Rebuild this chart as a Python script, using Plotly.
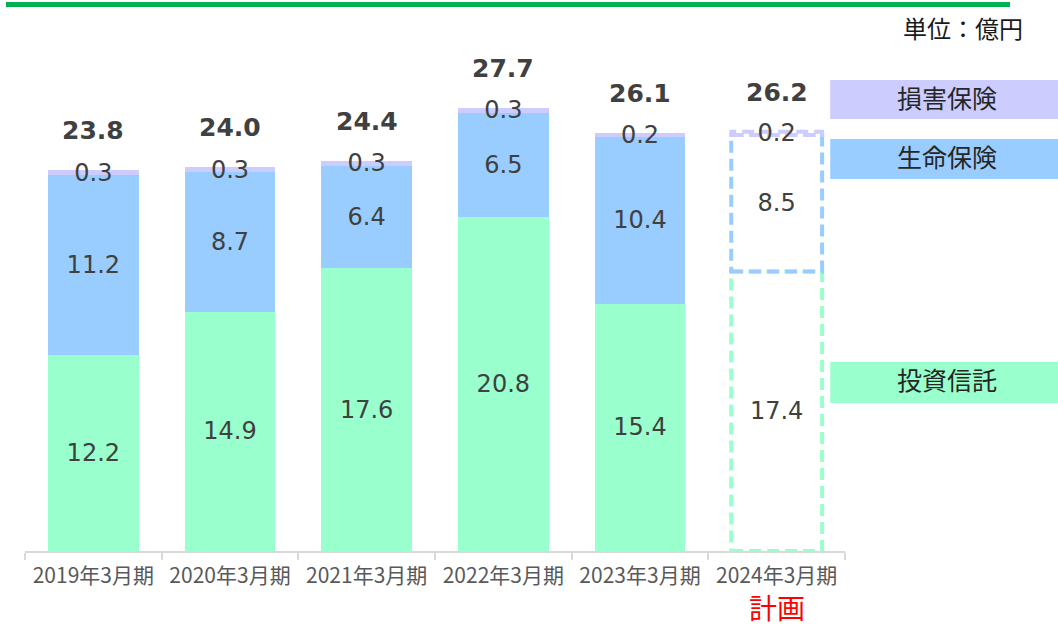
import plotly.graph_objects as go

years = ['2019年3月期', '2020年3月期', '2021年3月期', '2022年3月期', '2023年3月期', '2024年3月期']
toshin = [12.2, 14.9, 17.6, 20.8, 15.4, 17.4]
seimei = [11.2, 8.7, 6.4, 6.5, 10.4, 8.5]
songai = [0.3, 0.3, 0.3, 0.3, 0.2, 0.2]
totals = [23.8, 24.0, 24.4, 27.7, 26.1, 26.2]

c_toshin = '#99FFCC'
c_seimei = '#99CCFF'
c_songai = '#CCCCFF'

num_font = 'DejaVu Sans, Noto Sans CJK JP'
jp_font = 'Noto Sans CJK JP, sans-serif'

# last year is the plan -> empty bar with dashed outline
def fills(c):
    return [c] * (len(years) - 1) + ['rgba(0,0,0,0)']

fig = go.Figure()
for name, vals, col in [('投資信託', toshin, c_toshin), ('生命保険', seimei, c_seimei), ('損害保険', songai, c_songai)]:
    fig.add_trace(go.Bar(
        x=years, y=vals, name=name,
        marker=dict(color=fills(col), line=dict(width=0)),
        text=[f'{v:.1f}' for v in vals], textposition='inside',
        insidetextanchor='middle', textangle=0, constraintext='none',
        textfont=dict(size=24, color='#404040', family=num_font),
        width=0.665,
    ))

# dashed outlines for the plan bar
i = len(years) - 1
bottoms = [0, toshin[i], toshin[i] + seimei[i]]
tops = [toshin[i], toshin[i] + seimei[i], toshin[i] + seimei[i] + songai[i]]
for b, t, col in zip(bottoms, tops, [c_toshin, c_seimei, c_songai]):
    fig.add_shape(type='rect', xref='x', yref='y', x0=i - 0.3325, x1=i + 0.3325, y0=b, y1=t,
                  line=dict(color=col, width=4, dash='12px,6px'), fillcolor='rgba(0,0,0,0)',
                  layer='below')

for x, t in zip(years, totals):
    fig.add_annotation(x=x, y=t, text=f'<b>{t:.1f}</b>', showarrow=False, yshift=38,
                       xanchor='center', yanchor='middle',
                       font=dict(size=25, color='#404040', family=num_font))

# legend boxes on the right
legend = [('損害保険', c_songai, 0.8626, 0.7912), ('生命保険', c_seimei, 0.7546, 0.6813), ('投資信託', c_toshin, 0.3462, 0.2711)]
for name, col, y1, y0 in legend:
    fig.add_shape(type='rect', xref='paper', yref='paper', x0=0.982, x1=1.27, y0=y0, y1=y1,
                  fillcolor=col, line=dict(width=0))
    fig.add_annotation(xref='paper', yref='paper', x=1.124, y=(y0 + y1) / 2, text=name, showarrow=False,
                       xanchor='center', yanchor='middle', yshift=3,
                       font=dict(size=25, color='#262626', family=jp_font))

# header line and unit
fig.add_shape(type='rect', xref='paper', yref='paper', x0=-0.0232, x1=1.2012, y0=0.9963, y1=1.0055,
              fillcolor='#00B050', line=dict(width=0))
fig.add_annotation(xref='paper', yref='paper', x=1.22, y=0.958, text='単位：億円', showarrow=False,
                   xanchor='right', yanchor='middle', font=dict(size=24, color='#1a1a1a', family=jp_font))
fig.add_annotation(xref='x', yref='paper', x=years[-1], y=-0.1026, text='計画', showarrow=False,
                   xanchor='center', yanchor='middle',
                   font=dict(size=28, color='#FF0000', family=jp_font))

fig.update_layout(
    barmode='stack', width=1058, height=627,
    margin=dict(l=25, r=213, t=5, b=76),
    plot_bgcolor='white', paper_bgcolor='white', showlegend=False,
)
fig.update_xaxes(showline=True, linecolor='#d9d9d9', linewidth=2, ticks='outside', tickson='boundaries',
                 tickcolor='#d9d9d9', ticklen=7, tickwidth=1.5, ticklabelstandoff=5,
                 tickfont=dict(size=21, color='#595959', family=jp_font))
fig.update_yaxes(range=[0, 34], visible=False, showgrid=False)

fig.write_html('out.html', config={'displayModeBar': False},
               post_script="document.body.style.margin='0';")
